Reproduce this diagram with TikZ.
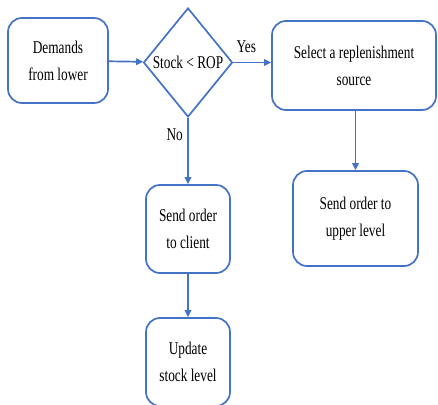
\documentclass[tikz,border=0pt]{standalone}
\usepackage{fontspec}
\setmainfont{Liberation Serif}
\usetikzlibrary{arrows.meta, shapes.geometric}

\definecolor{flowblue}{RGB}{68,114,196}
% text in the chart is drawn a little taller than wide
\newcommand{\tall}[1]{\scalebox{1}[1.35]{#1}}

\tikzset{
  block/.style={draw=flowblue, line width=1.7pt, rounded corners=14pt, align=center,
    inner sep=0pt, font=\fontsize{13.3}{27}\selectfont},
  decision/.style={draw=flowblue, line width=1.7pt, diamond, inner sep=0pt, aspect=1,
    minimum width=89pt, minimum height=109pt, font=\fontsize{13.3}{27}\selectfont},
  flow/.style={draw=flowblue, line width=1.7pt, -{Triangle[length=7pt,width=6.5pt]}},
  answer/.style={font=\fontsize{13.3}{27}\selectfont}
}

\begin{document}
\begin{tikzpicture}[x=1pt, y=-1pt]
\useasboundingbox (0,0) rectangle (438,404);
\clip (0,0) rectangle (438,404);
% Draw the boxes
\node[block, minimum width=100pt, minimum height=85pt] (demands) at (58,60.5) {\tall{Demands}\\\tall{from lower}};
\node[decision] (stock) at (188,62.5) {\tall{Stock < ROP}};
\node[block, minimum width=164pt, minimum height=89pt] (select) at (354,65.5) {\tall{Select a replenishment}\\\tall{source}};
\node[block, minimum width=125pt, minimum height=95pt] (upper) at (355.5,218.5) {\tall{Send order to}\\\tall{upper level}};
\node[block, minimum width=84pt, minimum height=88pt] (client) at (188,229) {\tall{Send order}\\\tall{to client}};
\node[block, minimum width=84pt, minimum height=88pt] (update) at (188,362) {\tall{Update}\\\tall{stock level}};
% Draw the connectors
\draw[flow] (demands) -- (stock);
\draw[flow] (stock) -- node[answer, above, xshift=-6pt, yshift=6pt] {\tall{Yes}} (select.west |- stock);
\draw[flow] (stock) -- node[answer, left, pos=0.25, xshift=-1pt] {\tall{No}} (client);
\draw[flow] (select.south -| upper) -- (upper);
\draw[flow] (client) -- (update);
\end{tikzpicture}
\end{document}
